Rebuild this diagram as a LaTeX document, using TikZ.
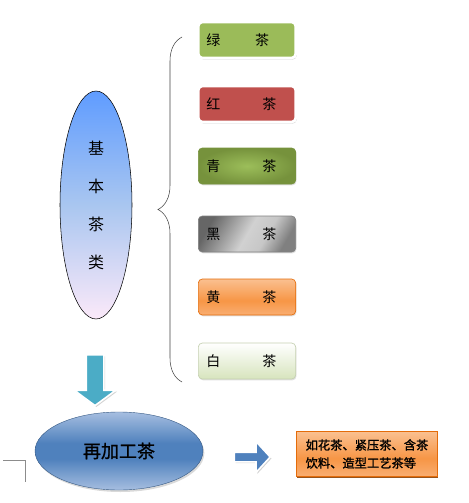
\documentclass[tikz,border=0pt]{standalone}
\usepackage{fontspec}
\setmainfont{Noto Sans CJK SC}
\newfontfamily\boldcjk[FakeBold=1.2]{Noto Sans CJK SC}
\usetikzlibrary{shapes.geometric, shapes.arrows, shadows, decorations.pathreplacing}

\definecolor{greentea}{HTML}{9BBB59}
\definecolor{redtea}{HTML}{C0504D}
\definecolor{olivedark}{HTML}{76923C}
\definecolor{olivelight}{HTML}{9CBE5A}
\definecolor{orangetea}{HTML}{F79646}
\definecolor{orangelight}{HTML}{FAC090}
\definecolor{orangelow}{HTML}{F9AE72}
\definecolor{orangeedge}{HTML}{E46C0A}
\definecolor{whitetea}{HTML}{D7E4BD}
\definecolor{skyblue}{HTML}{5F9CFF}
\definecolor{skymid}{HTML}{A9C6F0}
\definecolor{pinkwhite}{HTML}{FBE9F9}
\definecolor{steelblue}{HTML}{4F81BD}
\definecolor{steellight}{HTML}{A6BEE0}
\definecolor{teal}{HTML}{4BACC6}

\pgfdeclareverticalshading{orangeband}{100bp}{color(0bp)=(orangelow); color(25bp)=(orangelow);
	color(45bp)=(orangetea); color(75bp)=(orangelight); color(100bp)=(orangelight)}
\pgfdeclareverticalshading{steelband}{100bp}{color(0bp)=(steellight); color(25bp)=(steellight);
	color(45bp)=(steelblue); color(55bp)=(steelblue); color(75bp)=(steellight); color(100bp)=(steellight)}
\pgfdeclareverticalshading{skyband}{100bp}{color(0bp)=(pinkwhite); color(25bp)=(pinkwhite);
	color(50bp)=(skymid); color(75bp)=(skyblue); color(100bp)=(skyblue)}
\pgfdeclarehorizontalshading{greyband}{100bp}{color(0bp)=(black!60); color(25bp)=(black!60);
	color(50bp)=(black!18); color(62bp)=(black!22); color(75bp)=(black!50); color(100bp)=(black!50)}

\begin{document}
\begin{tikzpicture}[x=0.75pt, y=-0.75pt,
		teabox/.style={rectangle, rounded corners=3pt, minimum width=73pt, minimum height=27pt,
			inner sep=0pt, text width=61pt, align=left, font=\fontsize{10.5pt}{12pt}\selectfont},
		rim/.style={draw=white, line width=2pt, drop shadow={opacity=0.3, shadow xshift=0.8pt, shadow yshift=-1.2pt}},
		flat/.style={draw=#1, line width=0.5pt, drop shadow={opacity=0.25, shadow xshift=0.6pt, shadow yshift=-1pt}},
		blockarrow/.style={single arrow, inner xsep=0pt, single arrow head indent=0pt,
			draw=white, line width=1.2pt, drop shadow={opacity=0.35, shadow xshift=1pt, shadow yshift=-1pt}}]
		\useasboundingbox (0,0) rectangle (468,503);

		\node[ellipse, draw, line width=0.4pt, minimum width=54pt, minimum height=171pt, shading=skyband,
			align=center, font=\fontsize{12pt}{28.5pt}\selectfont] (basic) at (96,205) {基\\本\\茶\\类};

		\node[teabox, rim, fill=greentea] (green) at (247,40) {绿\hspace{26pt}茶};
		\node[teabox, rim, fill=redtea] (red) at (247,104) {红\hspace{31.5pt}茶};
		\node[teabox, flat=olivedark, inner color=olivelight, outer color=olivedark] (oolong) at (247,166) {青\hspace{31.5pt}茶};
		\node[teabox, flat=gray, shading=greyband, shading angle=-30] (dark) at (247,234) {黑\hspace{31.5pt}茶};
		\node[teabox, flat=orangeedge, shading=orangeband] (yellow) at (247,297) {黄\hspace{31.5pt}茶};
		\node[teabox, flat=whitetea!80!gray, top color=white, bottom color=whitetea] (white) at (247,361) {白\hspace{31.5pt}茶};

		\coordinate (bracetop) at (182,37);
		\coordinate (bracebot) at (182,382);
		\draw[black!75, decorate, decoration={brace, amplitude=18pt}] (bracebot) -- (bracetop);

		\node[blockarrow, fill=teal, rotate=-90, inner ysep=6pt, minimum height=38pt,
			single arrow head extend=9pt, single arrow tip angle=107] (down) at (95,377) {};

		\node[ellipse, draw=steelblue!70!black, line width=0.3pt, minimum width=126pt, minimum height=58.5pt,
			shading=steelband, drop shadow={opacity=0.3, shadow xshift=1pt, shadow yshift=-1.5pt},
			font=\boldcjk\fontsize{13.5pt}{16pt}\selectfont] (reproc) at (119,451) {再加工茶};

		\node[blockarrow, fill=steelblue, inner ysep=3pt, minimum height=27pt,
			single arrow head extend=8pt, single arrow tip angle=95] (right) at (250,457) {};

		\node[rectangle, draw=orangeedge, line width=0.5pt, minimum width=105.75pt, minimum height=33.75pt,
			shading=orangeband,
			drop shadow={fill=orangeedge!60!black, opacity=0.9, shadow xshift=0.5pt, shadow yshift=-1.2pt},
			align=left, font=\boldcjk\fontsize{9.2pt}{13.5pt}\selectfont] (products) at (367,454)
			{如花茶、紧压茶、含茶\\饮料、造型工艺茶等};

		\draw[black!45, line width=0.6pt] (3,460) -- (25,460) -- (25,482);
	\end{tikzpicture}
\end{document}
